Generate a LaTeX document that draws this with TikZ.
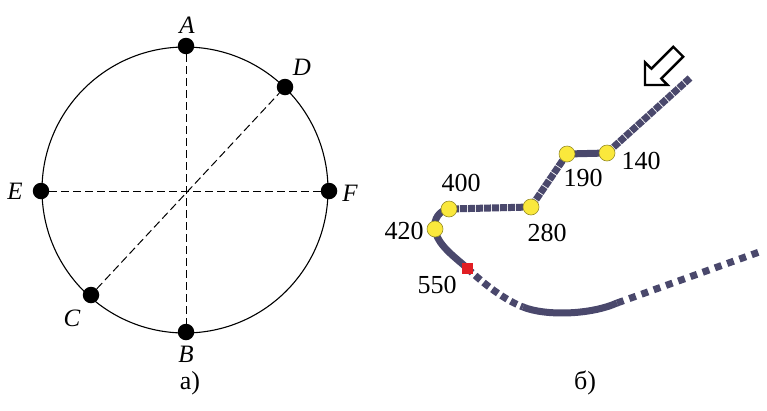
\documentclass[tikz,border=0pt]{standalone}
\usepackage{fontspec}
\setmainfont{Liberation Serif}
\definecolor{track}{RGB}{74,72,108}
\definecolor{ydot}{RGB}{250,232,60}
\definecolor{ydotb}{RGB}{150,140,40}
\definecolor{rsq}{RGB}{225,30,35}
\begin{document}
\begin{tikzpicture}[x=1pt,y=-1pt,
  lbl/.style={font=\fontsize{25}{30}\selectfont\itshape, inner sep=0pt},
  num/.style={font=\fontsize{26}{30}\selectfont, inner sep=0pt},
  bdot/.style={circle, fill=black, minimum size=16.5pt, inner sep=0pt},
  ydotstyle/.style={circle, fill=ydot, draw=ydotb, line width=0.6pt, minimum size=16pt, inner sep=0pt},
  diam/.style={dash pattern=on 8pt off 4pt, line width=1pt},
  trk/.style={draw=track, line width=7pt},
  trkgap/.style={trk, dash pattern=on 7pt off 1pt},
  trkdot/.style={trk, dash pattern=on 7pt off 4pt},
  trksparse/.style={trk, dash pattern=on 7pt off 6pt}]
\useasboundingbox (0,0) rectangle (767,410);
% ---- panel a
\coordinate (O) at (185,190);
\draw[line width=1.1pt] (O) circle[radius=143];
\node[bdot] (A) at (186,46) {};
\node[bdot] (B) at (186,332) {};
\node[bdot] (E) at (41,191) {};
\node[bdot] (F) at (329,191) {};
\node[bdot] (D) at (285,87) {};
\node[bdot] (C) at (91,295) {};
\draw[diam] (A) -- (B);
\draw[diam] (E) -- (F);
\draw[diam] (C) -- (D);
\node[lbl] (lA) at (187,25) {A};
\node[lbl] (lB) at (186,354) {B};
\node[lbl] (lC) at (72,318) {C};
\node[lbl] (lD) at (302,67) {D};
\node[lbl] (lE) at (15,191) {E};
\node[lbl] (lF) at (350,193) {F};
\node[num] (capa) at (190,383) {а)};
% ---- panel b
\coordinate (s0) at (690,78);
\coordinate (p140) at (607,153);
\coordinate (p190) at (567,154);
\coordinate (p280) at (531,207);
\coordinate (p400) at (449,209);
\coordinate (p420) at (435,229);
\coordinate (p550) at (467,268);
\coordinate (q1) at (523,307);
\coordinate (q2) at (617,303);
\coordinate (q3) at (762,251);
\draw[trkgap] (s0) -- (p140);
\draw[trk] (p140) -- (p190);
\draw[trkgap] (p190) -- (p280);
\draw[trkgap] (p280) -- (p400);
\draw[trk] (p400) .. controls (440,210) and (433,219) .. (p420)
  .. controls (437,245) and (455,257) .. (p550);
\draw[trkdot] (p550) .. controls (485,285) and (505,300) .. (q1);
\draw[trk] (q1) .. controls (545,316) and (590,315) .. (q2);
\draw[trksparse] (q2) -- (q3);
\node[fill=rsq, minimum size=11pt, inner sep=0pt] (r550) at (p550) {};
\foreach \p in {p140,p190,p280,p400,p420}
  \node[ydotstyle] (d\p) at (\p) {};
\node[num] (t140) at (641,161) {140};
\node[num] (t190) at (583,178) {190};
\node[num] (t280) at (547,233) {280};
\node[num] (t400) at (461,183) {400};
\node[num] (t420) at (404,231) {420};
\node[num] (t550) at (437,285) {550};
% hollow arrow
\draw[line width=2.4pt, line join=miter] (645,85) -- (667.6,85) -- (661.3,78.6) -- (683.2,56.7)
  -- (673.3,46.8) -- (651.4,68.7) -- (645,62.4) -- cycle;
\node[num] (capb) at (585,383) {б)};
\end{tikzpicture}
\end{document}
